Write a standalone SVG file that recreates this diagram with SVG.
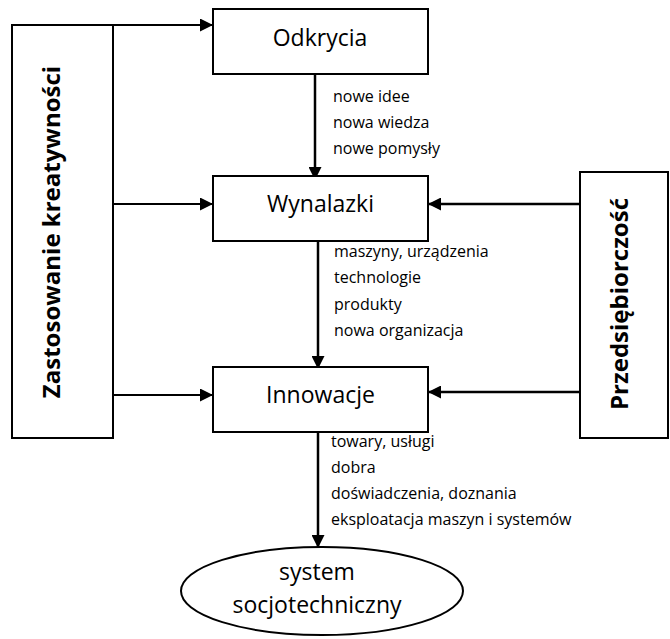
<svg xmlns="http://www.w3.org/2000/svg" width="670" height="639" viewBox="0 0 670 639">
  <defs>
    <marker id="arrow" viewBox="0 0 14 14" refX="14" refY="7" markerWidth="14" markerHeight="13" orient="auto" markerUnits="userSpaceOnUse">
      <path d="M0,0 L14,7 L0,14 z" fill="#000"/>
    </marker>
  </defs>
  <style>
    .box { fill: #fff; stroke: #000; stroke-width: 2; }
    .conn { fill: none; stroke: #000; stroke-width: 2.5; }
    .thin { stroke-width: 2; }
    .title { font-family: "Open Sans", "Noto Sans", sans-serif; font-size: 23px; fill: #000; text-anchor: middle; }
    .side { font-family: "Open Sans", "Noto Sans", sans-serif; font-size: 24px; font-weight: bold; fill: #000; text-anchor: middle; }
    .lbl { font-family: "Open Sans", "Noto Sans", sans-serif; font-size: 16px; fill: #000; }
  </style>
  <rect width="670" height="639" fill="#fff"/>

  <g id="connectors">
    <path class="conn thin" d="M12,25 H213" marker-end="url(#arrow)"/>
    <path class="conn thin" d="M113,204 H213" marker-end="url(#arrow)"/>
    <path class="conn thin" d="M113,395 H213" marker-end="url(#arrow)"/>
    <path class="conn" d="M580,204 H428" marker-end="url(#arrow)"/>
    <path class="conn" d="M580,392 H428" marker-end="url(#arrow)"/>
    <path class="conn" d="M315,74 V180" marker-end="url(#arrow)"/>
    <path class="conn" d="M318,241 V369" marker-end="url(#arrow)"/>
    <path class="conn" d="M318,432 V548" marker-end="url(#arrow)"/>
  </g>

  <g id="kreatywnosc">
    <rect class="box" x="12" y="25" width="101" height="413"/>
    <text class="side" transform="translate(60,232) rotate(-90)">Zastosowanie kreatywności</text>
  </g>

  <g id="przedsiebiorczosc">
    <rect class="box" x="580" y="172" width="88" height="266"/>
    <text class="side" transform="translate(628,304) rotate(-90)">Przedsiębiorczość</text>
  </g>

  <g id="odkrycia">
    <rect class="box" x="213" y="9" width="215" height="65"/>
    <text class="title" x="320" y="46">Odkrycia</text>
  </g>
  <g id="odkrycia-out">
    <text class="lbl" x="333" y="102">nowe idee</text>
    <text class="lbl" x="333" y="128">nowa wiedza</text>
    <text class="lbl" x="333" y="154">nowe pomysły</text>
  </g>

  <g id="wynalazki">
    <rect class="box" x="213" y="176" width="215" height="65"/>
    <text class="title" x="320.5" y="212">Wynalazki</text>
  </g>
  <g id="wynalazki-out">
    <text class="lbl" x="334" y="257">maszyny, urządzenia</text>
    <text class="lbl" x="334" y="283">technologie</text>
    <text class="lbl" x="334" y="310">produkty</text>
    <text class="lbl" x="334" y="336">nowa organizacja</text>
  </g>

  <g id="innowacje">
    <rect class="box" x="213" y="367" width="215" height="65"/>
    <text class="title" x="320.5" y="403">Innowacje</text>
  </g>
  <g id="innowacje-out">
    <text class="lbl" x="331" y="447">towary, usługi</text>
    <text class="lbl" x="331" y="473">dobra</text>
    <text class="lbl" x="331" y="499">doświadczenia, doznania</text>
    <text class="lbl" x="331" y="525">eksploatacja maszyn i systemów</text>
  </g>

  <g id="system">
    <ellipse class="box" cx="322" cy="591" rx="141" ry="44"/>
    <text class="title" x="317" y="580">system</text>
    <text class="title" x="317" y="613">socjotechniczny</text>
  </g>
</svg>
